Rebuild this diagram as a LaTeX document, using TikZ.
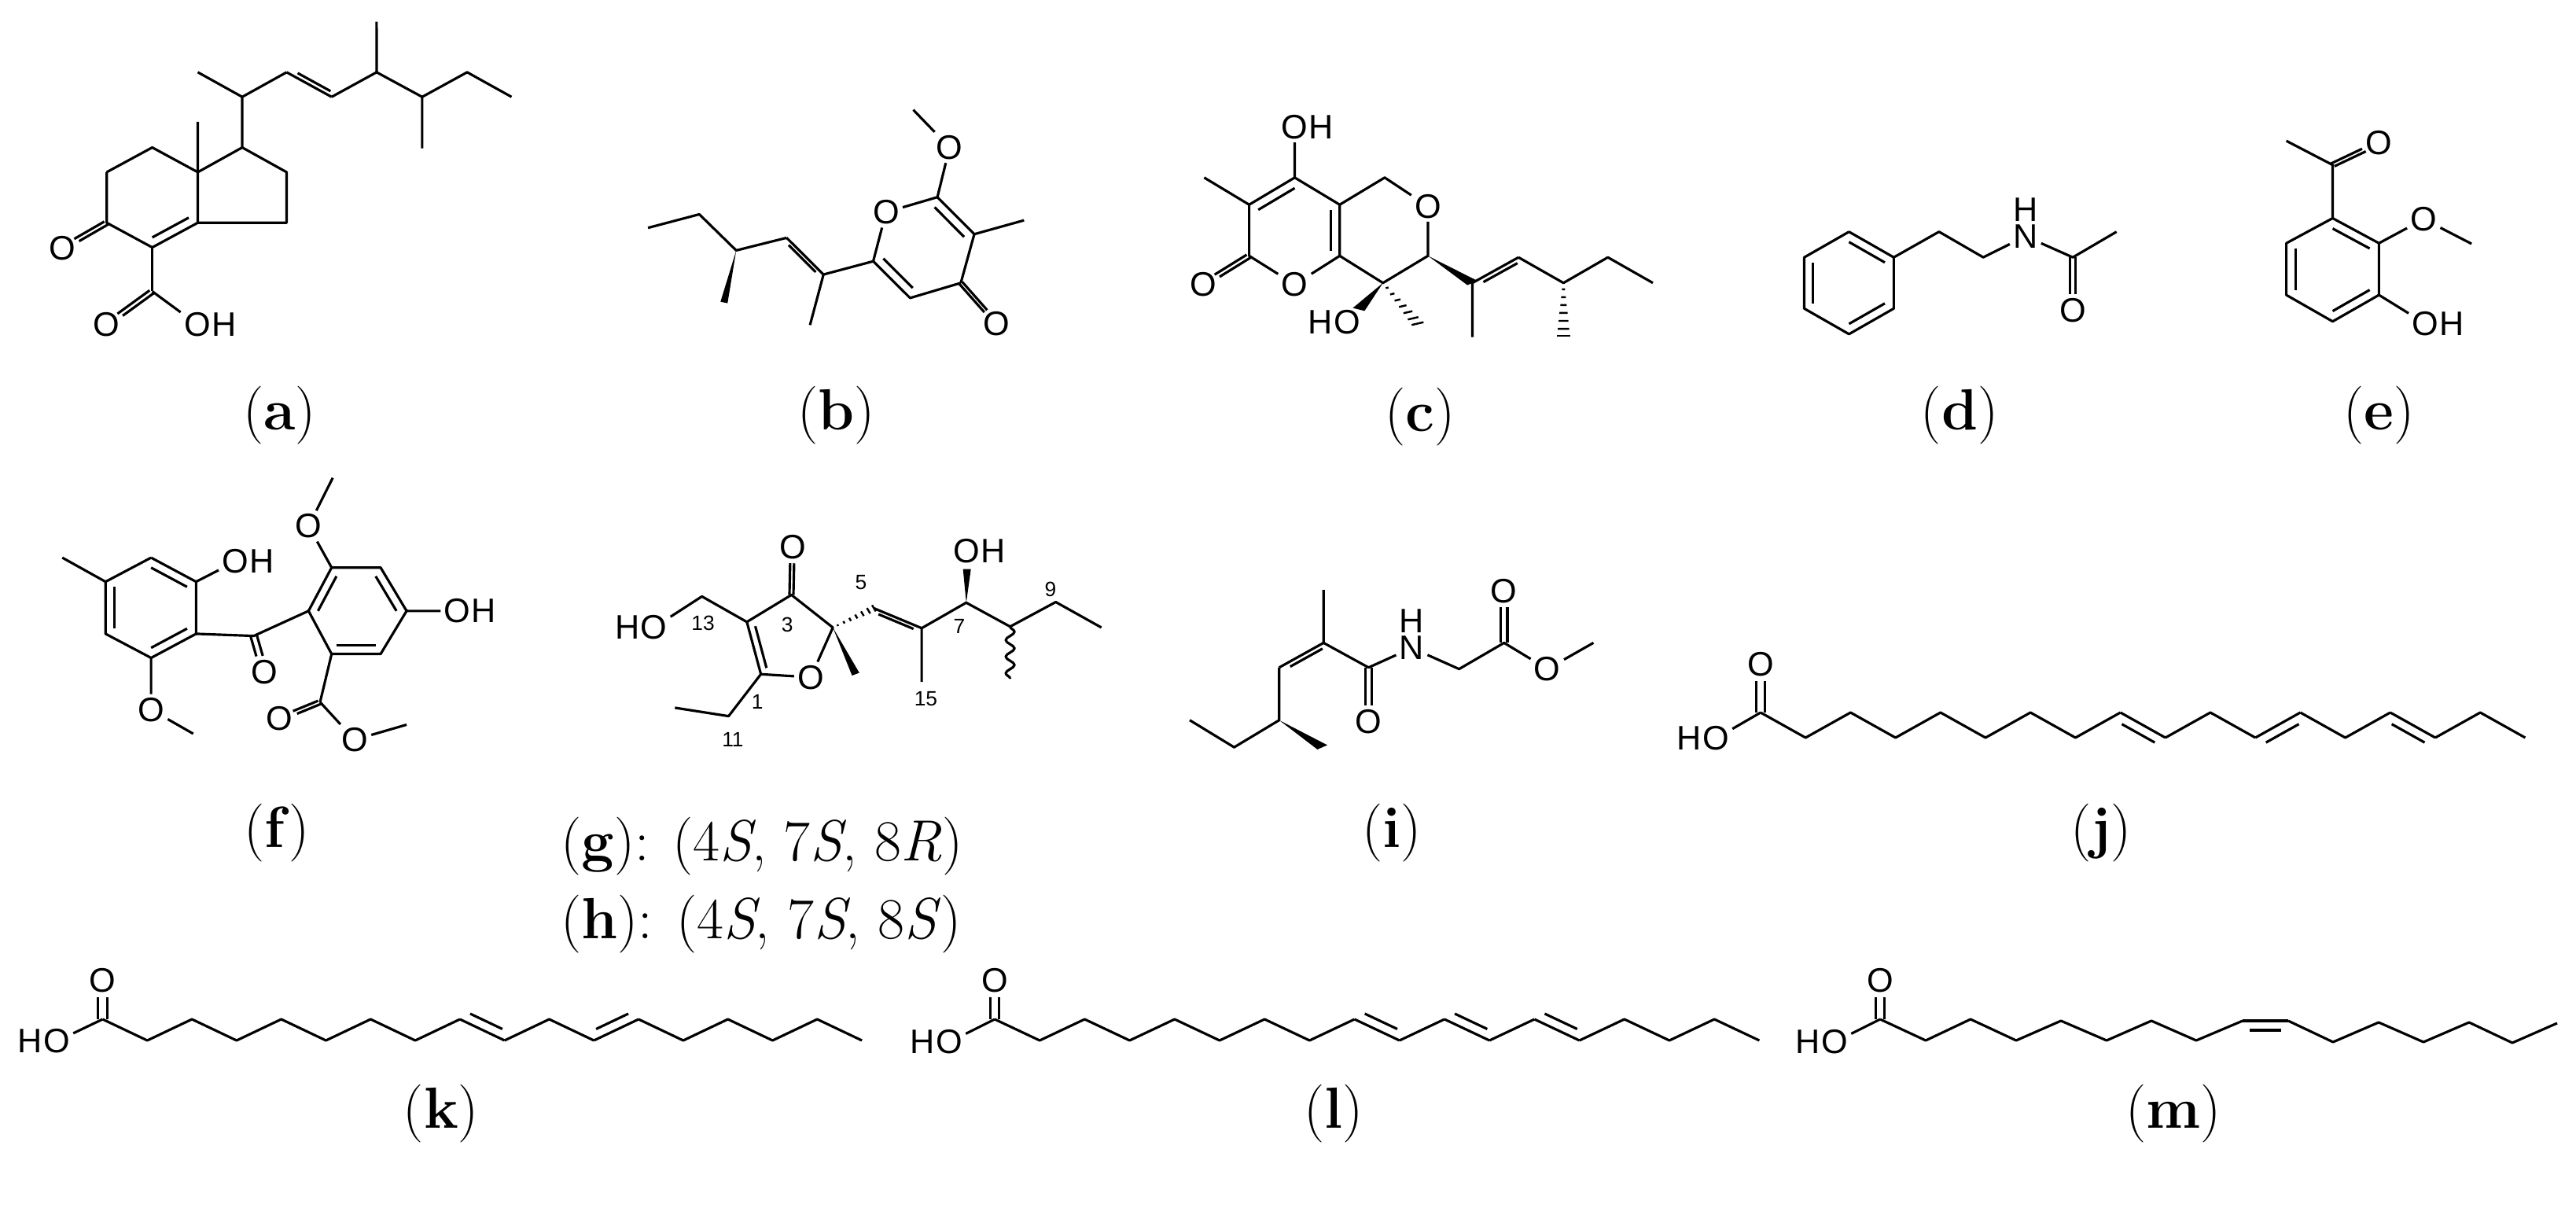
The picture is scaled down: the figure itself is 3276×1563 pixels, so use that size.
\documentclass[tikz,border=0pt]{standalone}
\usepackage{fontspec}
\newfontfamily\atomfont{Liberation Sans}
\usetikzlibrary{calc,decorations.pathmorphing}
\newcommand\dbl[3][]{\draw[#1] ($(#2)!1.6pt!90:(#3)$) -- ($(#3)!1.6pt!-90:(#2)$); \draw[#1] ($(#2)!1.6pt!-90:(#3)$) -- ($(#3)!1.6pt!90:(#2)$);}
\newcommand\sdb[3][90]{\draw (#2)--(#3); \pgfmathsetmacro\sdbang{#1-180}\draw[shorten <=2.5pt, shorten >=2.5pt] ($(#2)!3.4pt!#1:(#3)$) -- ($(#3)!3.4pt!\sdbang:(#2)$);}
\newcommand\inr[3]{\draw ($(#1)!0.2!(#3)$) -- ($(#2)!0.2!(#3)$);}
\newcommand\wdg[2]{\fill ($(#2)!3.2pt!90:(#1)$) -- (#1) -- ($(#2)!3.2pt!-90:(#1)$) -- cycle;}
\newcommand\hsh[2]{\foreach \t in {0.12,0.27,0.42,0.57,0.72,0.87,1.0}{\path (#1) -- (#2) coordinate[pos=\t] (hp); \pgfmathsetmacro\hw{0.4+2.8*\t}\draw[line width=0.7pt] ($(hp)!\hw pt!90:(#1)$) -- ($(hp)!\hw pt!-90:(#1)$);}}
\begin{document}
\begin{tikzpicture}[x=0.1mm,y=-0.1mm,line width=0.9pt,line join=round,
 atom/.style={font=\atomfont\fontsize{12.3}{14}\selectfont,inner sep=0.8pt},
 hr/.style={atom,anchor=west,inner xsep=0pt,xshift=-1.3pt},
 hl/.style={atom,anchor=east,inner xsep=0pt,xshift=1.3pt},
 hu/.style={atom,anchor=south,inner ysep=0pt,yshift=-0.5pt},
 num/.style={font=\atomfont\fontsize{7.5}{9}\selectfont,inner sep=0pt},
 lbl/.style={font=\fontsize{21}{25}\selectfont,inner sep=0pt}]
\useasboundingbox (0,0) rectangle (3276,1563);
% ---------- (a)
\begin{scope}[xscale=0.7334,yscale=0.3827]
\coordinate (a1) at (185,572); \coordinate (a2) at (264,490); \coordinate (a3) at (343,572);
\coordinate (a4) at (343,740); \coordinate (a5) at (264,822); \coordinate (a6) at (185,740); \coordinate (ac) at (264,656);
\coordinate (b1) at (420,490); \coordinate (b2) at (497,572); \coordinate (b3) at (497,740);
\coordinate (ak) at (264,968);
\node[atom] (aO) at (108,825) {O};
\node[atom] (aO2) at (185,1078) {O};
\node[atom] (aO3) at (342,1078) {O}; \node[hr] at (aO3.east) {H};
\draw (a1)--(a2)--(a3)--(a4)--(a5)--(a6)--(a1); \inr{a4}{a5}{ac}
\draw (a3)--(343,405); \draw (a3)--(b1)--(b2)--(b3)--(a4);
\dbl[shorten >=6pt]{a6}{aO}
\draw (a5)--(ak); \dbl[shorten >=6pt]{ak}{aO2} \draw (ak)--(aO3);
\coordinate (s1) at (420,322); \coordinate (s2) at (497,240); \coordinate (s3) at (575,322);
\coordinate (s4) at (653,240); \coordinate (s5) at (732,322); \coordinate (s6) at (810,240);
\draw (b1)--(s1)--(s2); \draw (s1)--(343,240); \sdb[90]{s2}{s3}
\draw (s3)--(s4)--(s5)--(s6)--(887,322); \draw (s4)--(653,72); \draw (s5)--(732,493);
\node[lbl] at (485,1380) {(\textbf{a})};
\end{scope}
% ---------- (b)
\begin{scope}[shift={(780,0)},xscale=0.408,yscale=0.3827]
\coordinate (be1) at (108,757); \coordinate (be2) at (268,712); \coordinate (bcs) at (383,832);
\coordinate (bd1) at (540,790); \coordinate (bd2) at (655,912); \coordinate (br1) at (810,868);
\coordinate (br2) at (1010,655); \coordinate (br3) at (1125,778); \coordinate (br4) at (1083,940);
\coordinate (br5) at (925,990); \coordinate (brc) at (967,823);
\node[atom] (bO) at (850,705) {O}; \node[atom] (bO2) at (1048,490) {O}; \node[atom] (bO3) at (1195,1075) {O};
\draw (be1)--(be2)--(bcs)--(bd1); \wdg{bcs}{345,1005}
\sdb[-90]{bd1}{bd2} \draw (bd2)--(613,1080); \draw (bd2)--(br1)--(bO)--(br2)--(bO2)--(935,365);
\draw (br2)--(br3); \inr{br2}{br3}{brc} \draw (br3)--(1280,732); \draw (br3)--(br4);
\dbl[shorten >=6pt]{br4}{bO3} \draw (br4)--(br5)--(br1); \inr{br5}{br1}{brc}
\node[lbl] at (695,1380) {(\textbf{b})};
\end{scope}
% ---------- (c)
\begin{scope}[shift={(1150,0)},xscale=0.7334,yscale=0.3827]
\coordinate (p1) at (677,590); \coordinate (p2) at (598,680); \coordinate (p3) at (598,850);
\coordinate (p5) at (755,850); \coordinate (p6) at (755,680); \coordinate (pc) at (677,765);
\coordinate (q1) at (833,590); \coordinate (q3) at (908,850); \coordinate (q4) at (830,940);
\coordinate (cr1) at (985,940); \coordinate (cr2) at (1065,855); \coordinate (cr3) at (1143,940);
\node[atom] (cO) at (677,422) {O}; \node[hr] at (cO.east) {H};
\node[atom] (cO1) at (677,945) {O}; \node[atom] (cO2) at (518,945) {O}; \node[atom] (cO3) at (908,685) {O};
\node[atom] (cO4) at (768,1070) {O}; \node[hl] at (cO4.west) {H};
\draw (p1)--(cO); \draw (p1)--(p2)--(p3)--(cO1)--(p5)--(p6)--(p1); \inr{p1}{p2}{pc} \inr{p5}{p6}{pc}
\draw (p2)--(520,590); \dbl[shorten >=6pt]{p3}{cO2}
\draw (p6)--(q1)--(cO3)--(q3)--(q4)--(p5);
\wdg{q4}{788,1028} \hsh{q4}{890,1075}
\wdg{q3}{cr1} \sdb[-90]{cr1}{cr2} \draw (cr1)--(985,1120);
\draw (cr2)--(cr3)--(1220,855)--(1298,940); \hsh{cr3}{1143,1115}
\node[lbl] at (895,1385) {(\textbf{c})};
\end{scope}
% ---------- (d),(e)
\begin{scope}[shift={(2250,0)},xscale=0.6543,yscale=0.3827]
\coordinate (d1) at (155,770); \coordinate (d2) at (242,855); \coordinate (d3) at (242,1025);
\coordinate (d4) at (155,1110); \coordinate (d5) at (68,1025); \coordinate (d6) at (68,855); \coordinate (dc) at (155,940);
\draw (d1)--(d2)--(d3)--(d4)--(d5)--(d6)--(d1); \inr{d1}{d2}{dc} \inr{d3}{d4}{dc} \inr{d5}{d6}{dc}
\node[atom] (dN) at (498,785) {N}; \node[hu] at (dN.north) {H};
\node[atom] (dO) at (590,1032) {O};
\coordinate (dk) at (590,855);
\draw (d2)--(330,770)--(416,855)--(dN)--(dk)--(675,770); \dbl[shorten >=6pt]{dk}{dO}
\node[lbl] at (370,1380) {(\textbf{d})};
\coordinate (e1) at (1095,725); \coordinate (e2) at (1185,808); \coordinate (e3) at (1185,980);
\coordinate (e4) at (1095,1068); \coordinate (e5) at (1005,980); \coordinate (e6) at (1005,808); \coordinate (ec) at (1095,896);
\coordinate (ek) at (1095,548);
\draw (e1)--(e2)--(e3)--(e4)--(e5)--(e6)--(e1); \inr{e1}{e2}{ec} \inr{e3}{e4}{ec} \inr{e5}{e6}{ec}
\node[atom] (eO) at (1185,475) {O}; \node[atom] (eO2) at (1272,728) {O};
\node[atom] (eO3) at (1275,1075) {O}; \node[hr] at (eO3.east) {H};
\draw (e1)--(ek)--(1005,468); \dbl[shorten >=6pt]{ek}{eO}
\draw (e2)--(eO2)--(1365,810); \draw (e3)--(eO3);
\node[lbl] at (1185,1380) {(\textbf{e})};
\end{scope}
% ---------- (f)
\begin{scope}[shift={(0,600)},xscale=0.7334,yscale=0.3827]
\coordinate (f1) at (262,285); \coordinate (f2) at (340,365); \coordinate (f3) at (340,538);
\coordinate (f4) at (262,618); \coordinate (f5) at (183,538); \coordinate (f6) at (183,365); \coordinate (fc) at (262,451);
\coordinate (g1) at (535,462); \coordinate (g2) at (575,318); \coordinate (g3) at (660,318);
\coordinate (g4) at (705,462); \coordinate (g5) at (660,605); \coordinate (g6) at (575,605); \coordinate (gc) at (617,462);
\coordinate (fk) at (440,545); \coordinate (fe) at (555,765);
\draw (f1)--(f2)--(f3)--(f4)--(f5)--(f6)--(f1); \inr{f1}{f2}{fc} \inr{f3}{f4}{fc} \inr{f5}{f6}{fc}
\draw (g1)--(g2)--(g3)--(g4)--(g5)--(g6)--(g1); \inr{g1}{g2}{gc} \inr{g3}{g4}{gc} \inr{g5}{g6}{gc}
\node[atom] (fO1) at (408,298) {O}; \node[hr] at (fO1.east) {H};
\node[atom] (fO2) at (262,790) {O}; \node[atom] (fO3) at (458,665) {O};
\node[atom] (fO4) at (535,180) {O};
\node[atom] (fO5) at (793,462) {O}; \node[hr] at (fO5.east) {H};
\node[atom] (fO6) at (485,820) {O}; \node[atom] (fO7) at (615,890) {O};
\draw (f6)--(108,285); \draw (f2)--(fO1); \draw (f4)--(fO2)--(335,870);
\draw (f3)--(fk)--(g1); \dbl[shorten >=6pt]{fk}{fO3}
\draw (g2)--(fO4)--(577,20); \draw (g4)--(fO5);
\draw (g6)--(fe); \dbl[shorten >=6pt]{fe}{fO6} \draw (fe)--(fO7)--(705,840);
\node[lbl] at (480,1200) {(\textbf{f})};
\end{scope}
% ---------- (g)/(h)
\begin{scope}[shift={(740,620)},xscale=0.4464,yscale=0.3954]
\coordinate (cm) at (342,350); \coordinate (gg4) at (470,432); \coordinate (gg1) at (510,600);
\coordinate (gg3) at (715,450); \coordinate (gck) at (597,345); \coordinate (ggc) at (590,500);
\coordinate (h5) at (832,388); \coordinate (h6) at (968,452); \coordinate (h7) at (1095,370);
\coordinate (h8) at (1220,447); \coordinate (h9) at (1350,368);
\node[atom] (gO1) at (205,450) {O}; \node[hl] at (gO1.west) {H};
\node[atom] (gO2) at (652,610) {O}; \node[atom] (gO3) at (600,190) {O};
\node[atom] (gO4) at (1095,205) {O}; \node[hr] at (gO4.east) {H};
\draw (gO1)--(cm)--(gg4)--(gg1)--(gO2)--(gg3)--(gck)--(gg4); \inr{gg4}{gg1}{ggc}
\dbl[shorten >=6pt]{gck}{gO3}
\draw (gg1)--(418,735)--(265,708);
\wdg{gg3}{780,600} \hsh{gg3}{h5}
\sdb[-90]{h5}{h6} \draw (h6)--(968,625); \draw (h6)--(h7)--(h8)--(h9)--(1480,450);
\wdg{h7}{1097,262} \draw[decorate,decoration={snake,amplitude=1.6pt,segment length=6pt}] (h8)--(1220,615);
\node[num] at (345,435) {13}; \node[num] at (585,440) {3}; \node[num] at (500,690) {1};
\node[num] at (430,810) {11}; \node[num] at (795,305) {5}; \node[num] at (980,680) {15};
\node[num] at (1075,445) {7}; \node[num] at (1335,328) {9};
\end{scope}
\node[lbl,anchor=base west] at (712,1094) {(\textbf{g}): (4\textit{S}, 7\textit{S}, 8\textit{R})};
\node[lbl,anchor=base west] at (712,1193) {(\textbf{h}): (4\textit{S}, 7\textit{S}, 8\textit{S})};
% ---------- (i)
\begin{scope}[shift={(1150,600)},xscale=0.7334,yscale=0.3827]
\coordinate (i4) at (650,825); \coordinate (i3) at (650,650); \coordinate (i2) at (727,568);
\coordinate (icm) at (805,650); \coordinate (i6) at (962,655); \coordinate (ice) at (1040,568);
\node[atom] (iO1) at (805,830) {O}; \node[atom] (iN) at (880,585) {N};
\node[hu] at (iN.north) {H};
\node[atom] (iO2) at (1040,395) {O}; \node[atom] (iO3) at (1115,655) {O};
\draw (495,825)--(572,915)--(i4)--(i3); \wdg{i4}{725,915}
\sdb[-90]{i3}{i2} \draw (i2)--(727,392); \draw (i2)--(icm)--(iN)--(i6)--(ice)--(iO3)--(1195,568);
\dbl[shorten >=6pt]{icm}{iO1} \dbl[shorten >=6pt]{ice}{iO2}
\node[lbl] at (845,1200) {(\textbf{i})};
\end{scope}
% ---------- (j)
\foreach \i in {0,...,17} \coordinate (j\i) at ({2239+57.2*\i},{906+32*mod(\i,2)});
\node[atom] (jO) at (2182,939) {O}; \node[hl] at (jO.west) {H};
\node[atom] (jO2) at (2239,845) {O};
\draw (jO)--(j0); \dbl[shorten >=6pt]{j0}{jO2}
\draw (j0)--(j1)--(j2)--(j3)--(j4)--(j5)--(j6)--(j7)--(j8); \sdb[-90]{j8}{j9}
\draw (j9)--(j10)--(j11); \sdb[-90]{j11}{j12} \draw (j12)--(j13)--(j14); \sdb[-90]{j14}{j15}
\draw (j15)--(j16)--(j17);
\node[lbl] at (2672,1059) {(\textbf{j})};
% ---------- (k)
\foreach \i in {0,...,17} \coordinate (k\i) at ({130.5+56.8*\i},{1296+27*mod(\i,2)});
\node[atom] (kO) at (72,1324) {O}; \node[hl] at (kO.west) {H};
\node[atom] (kO2) at (130.5,1247) {O};
\draw (kO)--(k0); \dbl[shorten >=6pt]{k0}{kO2}
\draw (k0)--(k1)--(k2)--(k3)--(k4)--(k5)--(k6)--(k7)--(k8); \sdb[90]{k8}{k9}
\draw (k9)--(k10)--(k11); \sdb[90]{k11}{k12}
\draw (k12)--(k13)--(k14)--(k15)--(k16)--(k17);
\node[lbl] at (561,1416) {(\textbf{k})};
% ---------- (l)
\foreach \i in {0,...,17} \coordinate (l\i) at ({1265+57.2*\i},{1296+27*mod(\i,2)});
\node[atom] (lO) at (1207,1325) {O}; \node[hl] at (lO.west) {H};
\node[atom] (lO2) at (1265,1247) {O};
\draw (lO)--(l0); \dbl[shorten >=6pt]{l0}{lO2}
\draw (l0)--(l1)--(l2)--(l3)--(l4)--(l5)--(l6)--(l7)--(l8); \sdb[90]{l8}{l9}
\draw (l9)--(l10); \sdb[90]{l10}{l11} \draw (l11)--(l12); \sdb[90]{l12}{l13}
\draw (l13)--(l14)--(l15)--(l16)--(l17);
\node[lbl] at (1696,1416) {(\textbf{l})};
% ---------- (m)
\foreach \i/\x/\y in {0/2391/1296,1/2449/1323,2/2506/1296,3/2564/1323,4/2621/1298,5/2679/1323,6/2736/1298,7/2793/1323,8/2852/1298,9/2910/1298,10/2967/1325,11/3025/1300,12/3082/1325,13/3140/1300,14/3195/1326,15/3252/1301}
  \coordinate (m\i) at (\x,\y);
\node[atom] (mO) at (2333,1325) {O}; \node[hl] at (mO.west) {H};
\node[atom] (mO2) at (2391,1247) {O};
\draw (mO)--(m0); \dbl[shorten >=6pt]{m0}{mO2}
\draw (m0)--(m1)--(m2)--(m3)--(m4)--(m5)--(m6)--(m7)--(m8); \sdb[-90]{m8}{m9}
\draw (m9)--(m10)--(m11)--(m12)--(m13)--(m14)--(m15);
\node[lbl] at (2764,1416) {(\textbf{m})};
\end{tikzpicture}
\end{document}
